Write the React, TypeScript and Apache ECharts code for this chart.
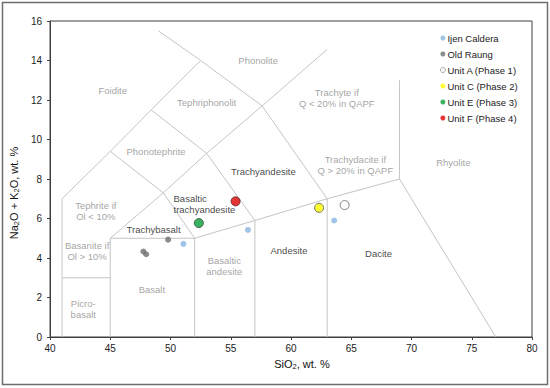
import React, { useEffect, useRef } from "react";
import * as echarts from "echarts";

const FONT = "'Liberation Sans', Arial, sans-serif";

// x-axis ticks (SiO2) and y-axis ticks (Na2O + K2O)
const xTicks = [40, 45, 50, 55, 60, 65, 70, 75, 80];
const yTicks = [0, 2, 4, 6, 8, 10, 12, 14, 16];

// TAS field boundaries (polylines in data coordinates)
const boundaryLines: number[][][] = [
  [[41, 0], [41, 7], [45, 9.4], [48.4, 11.5], [52.5, 14]],
  [[49, 15.5], [52.5, 14], [57.6, 11.7], [63, 7], [63, 0]],
  [[41, 3], [45, 3]],
  [[45, 0], [45, 5], [52, 5], [52, 0]],
  [[45, 5], [49.4, 7.3], [53, 9.3], [57.6, 11.7], [63, 14.56]],
  [[45, 9.4], [49.4, 7.3], [52, 5]],
  [[48.4, 11.5], [53, 9.3], [57, 5.9], [57, 0]],
  [[52, 5], [57, 5.9], [63, 7], [69, 8], [77, 0]],
  [[69, 8], [69, 13]],
];

// Sample data
const ijenCaldera = [[51.07, 4.72], [56.43, 5.42], [63.58, 5.9]];
const oldRaung = [[49.8, 4.93], [47.75, 4.33], [47.98, 4.19]];
const unitA = [[64.45, 6.68]];
const unitC = [[62.33, 6.54]];
const unitE = [[52.35, 5.77]];
const unitF = [[55.4, 6.87]];

// Field names: [text, x, y, emphasised(1)/grey(0), align]
const fieldNames: [string, number, number, number, string][] = [
  ["Foidite", 45.2, 12.48, 0, "center"],
  ["Phonolite", 57.27, 13.99, 0, "center"],
  ["Tephriphonolit", 53.0, 11.89, 0, "center"],
  ["Trachyte if\nQ < 20% in QAPF", 63.8, 12.12, 0, "center"],
  ["Phonotephrite", 48.8, 9.41, 0, "center"],
  ["Trachyandesite", 57.71, 8.36, 1, "center"],
  ["Trachydacite if\nQ > 20% in QAPF", 65.34, 8.7, 0, "center"],
  ["Rhyolite", 73.47, 8.84, 0, "center"],
  ["Tephrite if\nOl < 10%", 43.8, 6.39, 0, "center"],
  ["Basaltic\ntrachyandesite", 50.25, 6.75, 1, "left"],
  ["Trachybasalt", 48.59, 5.43, 1, "center"],
  ["Basanite if\nOl > 10%", 43.08, 4.37, 0, "center"],
  ["Basaltic\nandesite", 54.46, 3.61, 0, "center"],
  ["Andesite", 59.83, 4.39, 1, "center"],
  ["Dacite", 67.26, 4.23, 1, "center"],
  ["Basalt", 48.45, 2.4, 0, "center"],
  ["Picro-\nbasalt", 42.76, 1.4, 0, "center"],
];

const legendNames = [
  "Ijen Caldera",
  "Old Raung",
  "Unit A (Phase 1)",
  "Unit C (Phase 2)",
  "Unit E (Phase 3)",
  "Unit F (Phase 4)",
];

export default function App() {
  const ref = useRef<HTMLDivElement>(null);

  useEffect(() => {
    document.body.style.margin = "0";
    if (!ref.current) return;
    const chart = echarts.init(ref.current, null, { renderer: "svg" });

    const lineSeries = boundaryLines.map((pts, i) => ({
      type: "line",
      name: "boundary" + i,
      data: pts,
      showSymbol: false,
      symbol: "none",
      silent: true,
      lineStyle: { color: "#c4c4c4", width: 1 },
      z: 1,
    }));

    const labelSeries = {
      type: "scatter",
      name: "fields",
      symbolSize: 0,
      silent: true,
      z: 3,
      data: fieldNames.map(([t, x, y, emph, align]) => ({
        value: [x, y],
        name: t,
        label: {
          show: true,
          position: "inside",
          formatter: t,
          align: align,
          fontFamily: FONT,
          fontSize: 9.5,
          lineHeight: 11,
          color: emph ? "#111" : "#8c8c8c",
        },
      })),
    };

    const pointSeries = (name: string, data: number[][], color: string, size: number, border: string | null) => ({
      type: "scatter",
      name,
      data,
      symbol: "circle",
      symbolSize: size,
      z: 5,
      itemStyle: {
        color,
        borderColor: border || color,
        borderWidth: border ? 1 : 0,
      },
    });

    const axisNameRich = (size: number) => ({
      a: { fontFamily: FONT, fontSize: size, color: "#111" },
      s: { fontFamily: FONT, fontSize: 7.5, color: "#111", padding: [5, 0, 0, 0] },
    });

    chart.setOption({
      animation: false,
      backgroundColor: "#fff",
      graphic: [
        {
          type: "rect",
          shape: { x: 2.5, y: 2.5, width: 545, height: 382 },
          style: { fill: "none", stroke: "#6e6e6e", lineWidth: 1.5 },
          silent: true,
        },
      ],
      grid: {
        left: 48,
        right: 18,
        top: 21,
        bottom: 51,
        show: true,
        borderColor: "#404040",
        borderWidth: 1,
        backgroundColor: "transparent",
      },
      legend: {
        orient: "vertical",
        left: 440,
        top: 32,
        padding: 0,
        itemWidth: 5,
        itemHeight: 5,
        itemGap: 4,
        icon: "circle",
        data: legendNames.map((n, i) => ({
          name: n,
          itemStyle: i === 2 ? { borderWidth: 0.8, borderColor: "#777" } : { borderWidth: 0 },
        })),
        textStyle: { fontFamily: FONT, fontSize: 9.5, lineHeight: 12, color: "#222", padding: [0, 0, 0, -3] },
      },
      xAxis: {
        type: "value",
        min: xTicks[0],
        max: xTicks[xTicks.length - 1],
        interval: xTicks[1] - xTicks[0],
        name: "{a|SiO}{s|2}{a|, wt. %}",
        nameLocation: "middle",
        nameGap: 20,
        nameTextStyle: { rich: axisNameRich(11), padding: [0, 0, 0, 22] },
        axisLine: { show: true, lineStyle: { color: "#404040", width: 1 } },
        axisTick: { show: true, inside: false, length: 3, lineStyle: { color: "#404040" } },
        axisLabel: { fontFamily: FONT, fontSize: 10, color: "#222", margin: 6 },
        splitLine: { show: false },
      },
      yAxis: {
        type: "value",
        min: yTicks[0],
        max: yTicks[yTicks.length - 1],
        interval: yTicks[1] - yTicks[0],
        name: "{a|Na}{s|2}{a|O + K}{s|2}{a|O, wt. %}",
        nameLocation: "middle",
        nameGap: 18,
        nameRotate: 90,
        nameTextStyle: { rich: axisNameRich(11), padding: [0, 28, 0, 0] },
        axisLine: { show: true, lineStyle: { color: "#404040", width: 1 } },
        axisTick: { show: true, inside: false, length: 3, lineStyle: { color: "#404040" } },
        axisLabel: { fontFamily: FONT, fontSize: 10, color: "#222", margin: 8 },
        splitLine: { show: false },
      },
      series: [
        ...lineSeries,
        labelSeries,
        pointSeries(legendNames[0], ijenCaldera, "#86b6e2", 6, null),
        pointSeries(legendNames[1], oldRaung, "#6e6e6e", 6, null),
        pointSeries(legendNames[2], unitA, "#ffffff", 9, "#666666"),
        pointSeries(legendNames[3], unitC, "#ffff00", 9, "#555555"),
        pointSeries(legendNames[4], unitE, "#0a9e3c", 9, "#2d4a33"),
        pointSeries(legendNames[5], unitF, "#e00000", 9, "#5a1a1a"),
      ],
    });

    return () => chart.dispose();
  }, []);

  return <div ref={ref} style={{ width: 550, height: 388 }} />;
}
